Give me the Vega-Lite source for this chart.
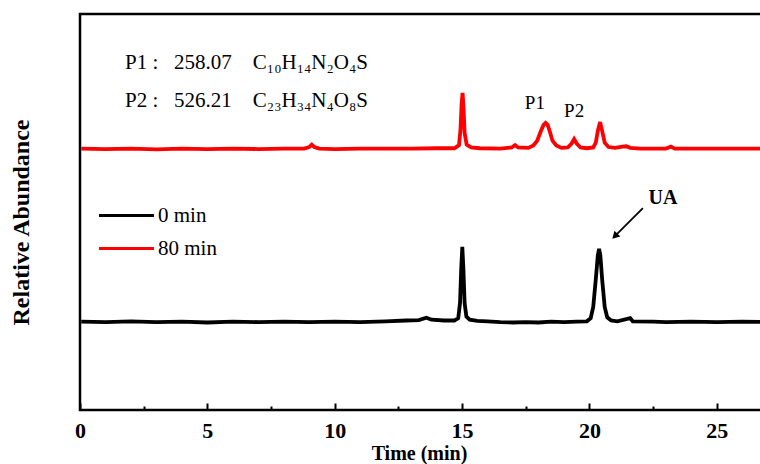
{
  "$schema": "https://vega.github.io/schema/vega-lite/v6.json",
  "autosize": "none",
  "width": 690,
  "height": 396,
  "padding": {"left": 80, "top": 14, "right": 0, "bottom": 54},
  "background": "white",
  "config": {
    "font": "Liberation Serif",
    "view": {"stroke": "black", "strokeWidth": 2.5},
    "legend": {"orient": "none", "legendX": 31, "legendY": 186, "padding": 0, "title": null}
  },
  "datasets": {
    "series": [
      {"t": 0.05, "v": 22.3, "s": "0 min"}, {"t": 1, "v": 22.2, "s": "0 min"}, {"t": 2, "v": 22.4, "s": "0 min"},
      {"t": 3, "v": 22.2, "s": "0 min"}, {"t": 4, "v": 22.3, "s": "0 min"}, {"t": 5, "v": 22.1, "s": "0 min"},
      {"t": 6, "v": 22.3, "s": "0 min"}, {"t": 7, "v": 22.2, "s": "0 min"}, {"t": 8, "v": 22.3, "s": "0 min"},
      {"t": 9, "v": 22.2, "s": "0 min"}, {"t": 10, "v": 22.3, "s": "0 min"}, {"t": 11, "v": 22.2, "s": "0 min"},
      {"t": 12, "v": 22.4, "s": "0 min"}, {"t": 12.8, "v": 22.6, "s": "0 min"}, {"t": 13.3, "v": 22.7, "s": "0 min"},
      {"t": 13.6, "v": 23.3, "s": "0 min"}, {"t": 13.8, "v": 22.8, "s": "0 min"}, {"t": 14.3, "v": 22.6, "s": "0 min"},
      {"t": 14.7, "v": 22.6, "s": "0 min"}, {"t": 14.85, "v": 23.2, "s": "0 min"}, {"t": 14.92, "v": 27, "s": "0 min"},
      {"t": 14.97, "v": 36, "s": "0 min"}, {"t": 15.01, "v": 41.2, "s": "0 min"}, {"t": 15.05, "v": 36, "s": "0 min"},
      {"t": 15.1, "v": 27, "s": "0 min"}, {"t": 15.17, "v": 23.6, "s": "0 min"}, {"t": 15.3, "v": 22.8, "s": "0 min"},
      {"t": 15.6, "v": 22.5, "s": "0 min"}, {"t": 16, "v": 22.4, "s": "0 min"}, {"t": 16.5, "v": 22.2, "s": "0 min"},
      {"t": 17, "v": 22.1, "s": "0 min"}, {"t": 17.5, "v": 22.2, "s": "0 min"}, {"t": 18, "v": 22.1, "s": "0 min"},
      {"t": 18.5, "v": 22.3, "s": "0 min"}, {"t": 19, "v": 22.2, "s": "0 min"}, {"t": 19.5, "v": 22.3, "s": "0 min"},
      {"t": 19.9, "v": 22.4, "s": "0 min"}, {"t": 20.05, "v": 23.2, "s": "0 min"}, {"t": 20.15, "v": 26, "s": "0 min"},
      {"t": 20.25, "v": 33, "s": "0 min"}, {"t": 20.33, "v": 39, "s": "0 min"}, {"t": 20.38, "v": 40.7, "s": "0 min"},
      {"t": 20.43, "v": 39, "s": "0 min"}, {"t": 20.5, "v": 33, "s": "0 min"}, {"t": 20.6, "v": 26, "s": "0 min"},
      {"t": 20.7, "v": 23.4, "s": "0 min"}, {"t": 20.85, "v": 22.6, "s": "0 min"}, {"t": 21.1, "v": 22.4, "s": "0 min"},
      {"t": 21.6, "v": 23.2, "s": "0 min"}, {"t": 21.7, "v": 22.4, "s": "0 min"}, {"t": 22.5, "v": 22.3, "s": "0 min"},
      {"t": 23, "v": 22.2, "s": "0 min"}, {"t": 24, "v": 22.3, "s": "0 min"}, {"t": 25, "v": 22.2, "s": "0 min"},
      {"t": 26, "v": 22.3, "s": "0 min"}, {"t": 27.1, "v": 22.2, "s": "0 min"},
      {"t": 0.05, "v": 66, "s": "80 min"}, {"t": 1, "v": 65.9, "s": "80 min"}, {"t": 2, "v": 66, "s": "80 min"},
      {"t": 3, "v": 65.8, "s": "80 min"}, {"t": 4, "v": 66, "s": "80 min"}, {"t": 5, "v": 65.9, "s": "80 min"},
      {"t": 6, "v": 66, "s": "80 min"}, {"t": 7, "v": 65.9, "s": "80 min"}, {"t": 8, "v": 66, "s": "80 min"},
      {"t": 8.8, "v": 66, "s": "80 min"}, {"t": 9.0, "v": 66.4, "s": "80 min"}, {"t": 9.1, "v": 67, "s": "80 min"},
      {"t": 9.2, "v": 66.4, "s": "80 min"}, {"t": 9.4, "v": 66, "s": "80 min"}, {"t": 10, "v": 65.9, "s": "80 min"},
      {"t": 11, "v": 66, "s": "80 min"}, {"t": 12, "v": 66, "s": "80 min"}, {"t": 13, "v": 66, "s": "80 min"},
      {"t": 14, "v": 66.1, "s": "80 min"}, {"t": 14.7, "v": 66.1, "s": "80 min"}, {"t": 14.88, "v": 66.9, "s": "80 min"},
      {"t": 14.94, "v": 71, "s": "80 min"}, {"t": 14.98, "v": 77, "s": "80 min"}, {"t": 15.02, "v": 80.1, "s": "80 min"},
      {"t": 15.06, "v": 76, "s": "80 min"}, {"t": 15.1, "v": 70, "s": "80 min"}, {"t": 15.18, "v": 67, "s": "80 min"},
      {"t": 15.35, "v": 66.3, "s": "80 min"}, {"t": 15.7, "v": 66.1, "s": "80 min"}, {"t": 16.5, "v": 66, "s": "80 min"},
      {"t": 16.95, "v": 66.3, "s": "80 min"}, {"t": 17.08, "v": 66.9, "s": "80 min"}, {"t": 17.2, "v": 66.3, "s": "80 min"},
      {"t": 17.6, "v": 66.2, "s": "80 min"}, {"t": 17.8, "v": 66.8, "s": "80 min"}, {"t": 17.95, "v": 68, "s": "80 min"},
      {"t": 18.1, "v": 70.5, "s": "80 min"}, {"t": 18.2, "v": 72, "s": "80 min"}, {"t": 18.28, "v": 72.5, "s": "80 min"},
      {"t": 18.36, "v": 72, "s": "80 min"}, {"t": 18.45, "v": 70.2, "s": "80 min"}, {"t": 18.55, "v": 68, "s": "80 min"},
      {"t": 18.7, "v": 66.8, "s": "80 min"}, {"t": 18.9, "v": 66.2, "s": "80 min"}, {"t": 19.15, "v": 66.3, "s": "80 min"},
      {"t": 19.3, "v": 67.3, "s": "80 min"}, {"t": 19.4, "v": 68.4, "s": "80 min"}, {"t": 19.5, "v": 67.3, "s": "80 min"},
      {"t": 19.65, "v": 66.3, "s": "80 min"}, {"t": 19.9, "v": 66.1, "s": "80 min"}, {"t": 20.15, "v": 66.3, "s": "80 min"},
      {"t": 20.25, "v": 67.5, "s": "80 min"}, {"t": 20.33, "v": 70.5, "s": "80 min"}, {"t": 20.42, "v": 72.7, "s": "80 min"},
      {"t": 20.5, "v": 70.5, "s": "80 min"}, {"t": 20.6, "v": 67.5, "s": "80 min"}, {"t": 20.75, "v": 66.4, "s": "80 min"},
      {"t": 21, "v": 66.2, "s": "80 min"}, {"t": 21.3, "v": 66.5, "s": "80 min"}, {"t": 21.45, "v": 66.6, "s": "80 min"},
      {"t": 21.6, "v": 66.2, "s": "80 min"}, {"t": 22, "v": 66, "s": "80 min"}, {"t": 23, "v": 66, "s": "80 min"},
      {"t": 23.2, "v": 66.5, "s": "80 min"}, {"t": 23.35, "v": 66, "s": "80 min"}, {"t": 24, "v": 66, "s": "80 min"},
      {"t": 25, "v": 66, "s": "80 min"}, {"t": 26, "v": 66, "s": "80 min"}, {"t": 27.1, "v": 66, "s": "80 min"}
    ],
    "formulas": [
      {"t": 1.77, "v": 86.1, "label": "P1 :\u00a0\u00a0 258.07 \u00a0\u00a0\u00a0C₁₀H₁₄N₂O₄S"},
      {"t": 1.77, "v": 76.5, "label": "P2 :\u00a0\u00a0 526.21 \u00a0\u00a0\u00a0C₂₃H₃₄N₄O₈S"}
    ],
    "peaks": [
      {"t": 17.86, "v": 77.5, "label": "P1"},
      {"t": 19.4, "v": 75.6, "label": "P2"}
    ],
    "ua": [{"t": 22.89, "v": 53.5, "label": "UA"}],
    "arrow": [{"t": 22.1, "v": 51, "t2": 21.0, "v2": 43.9}]
  },
  "layer": [
    {
      "data": {"name": "series"},
      "mark": {"type": "line", "strokeWidth": 3.8, "clip": true},
      "encoding": {
        "x": {
          "field": "t", "type": "quantitative",
          "scale": {"domain": [0, 27.09], "nice": false, "zero": false},
          "axis": {
            "values": [0, 2.5, 5, 7.5, 10, 12.5, 15, 17.5, 20, 22.5, 25],
            "labelExpr": "datum.value % 5 === 0 ? datum.label : ''",
            "domain": false, "grid": false,
            "tickColor": "black", "tickWidth": 2,
            "tickSize": {"condition": {"test": "datum.value % 5 === 0", "value": -7}, "value": -4},
            "labelPadding": 17,
            "labelFont": "Liberation Serif", "labelFontSize": 22, "labelFontWeight": "bold", "labelColor": "black",
            "labelFlush": false, "labelOverlap": false,
            "title": "Time (min)", "titleFont": "Liberation Serif", "titleFontSize": 20, "titleFontWeight": "bold",
            "titleColor": "black", "titleX": 339, "titleY": 43, "titleBaseline": "middle", "titleAlign": "center"
          }
        },
        "y": {
          "field": "v", "type": "quantitative",
          "scale": {"domain": [0, 100], "nice": false},
          "axis": {
            "domain": false, "ticks": false, "labels": false, "grid": false,
            "title": "Relative Abundance", "titleFont": "Liberation Serif", "titleFontSize": 24, "titleFontWeight": "bold",
            "titleColor": "black", "titleX": -59, "titleY": 208, "titleAngle": 270, "titleBaseline": "middle", "titleAlign": "center"
          }
        },
        "color": {
          "field": "s", "type": "nominal",
          "scale": {"domain": ["0 min", "80 min"], "range": ["#000000", "#ff0000"]},
          "legend": {
            "symbolType": "M-2,0H2", "symbolSize": 756, "symbolStrokeWidth": 3,
            "labelFont": "Liberation Serif", "labelFontSize": 21, "labelColor": "black", "labelOffset": 16,
            "rowPadding": 7
          }
        }
      }
    },
    {
      "data": {"name": "formulas"},
      "mark": {"type": "text", "align": "left", "baseline": "alphabetic", "fontSize": 21, "font": "Liberation Serif", "color": "black"},
      "encoding": {
        "x": {"field": "t", "type": "quantitative"},
        "y": {"field": "v", "type": "quantitative"},
        "text": {"field": "label"}
      }
    },
    {
      "data": {"name": "peaks"},
      "mark": {"type": "text", "align": "center", "baseline": "middle", "fontSize": 19, "font": "Liberation Serif", "color": "black"},
      "encoding": {
        "x": {"field": "t", "type": "quantitative"},
        "y": {"field": "v", "type": "quantitative"},
        "text": {"field": "label"}
      }
    },
    {
      "data": {"name": "ua"},
      "mark": {"type": "text", "align": "center", "baseline": "middle", "fontSize": 20, "fontWeight": "bold", "font": "Liberation Serif", "color": "black"},
      "encoding": {
        "x": {"field": "t", "type": "quantitative"},
        "y": {"field": "v", "type": "quantitative"},
        "text": {"field": "label"}
      }
    },
    {
      "data": {"name": "arrow"},
      "mark": {"type": "rule", "strokeWidth": 1.8, "color": "black"},
      "encoding": {
        "x": {"field": "t", "type": "quantitative"},
        "y": {"field": "v", "type": "quantitative"},
        "x2": {"field": "t2"},
        "y2": {"field": "v2"}
      }
    },
    {
      "data": {"name": "arrow"},
      "mark": {"type": "point", "shape": "triangle-up", "size": 70, "angle": 225, "filled": true, "color": "black", "opacity": 1},
      "encoding": {
        "x": {"field": "t2", "type": "quantitative"},
        "y": {"field": "v2", "type": "quantitative"}
      }
    }
  ]
}
